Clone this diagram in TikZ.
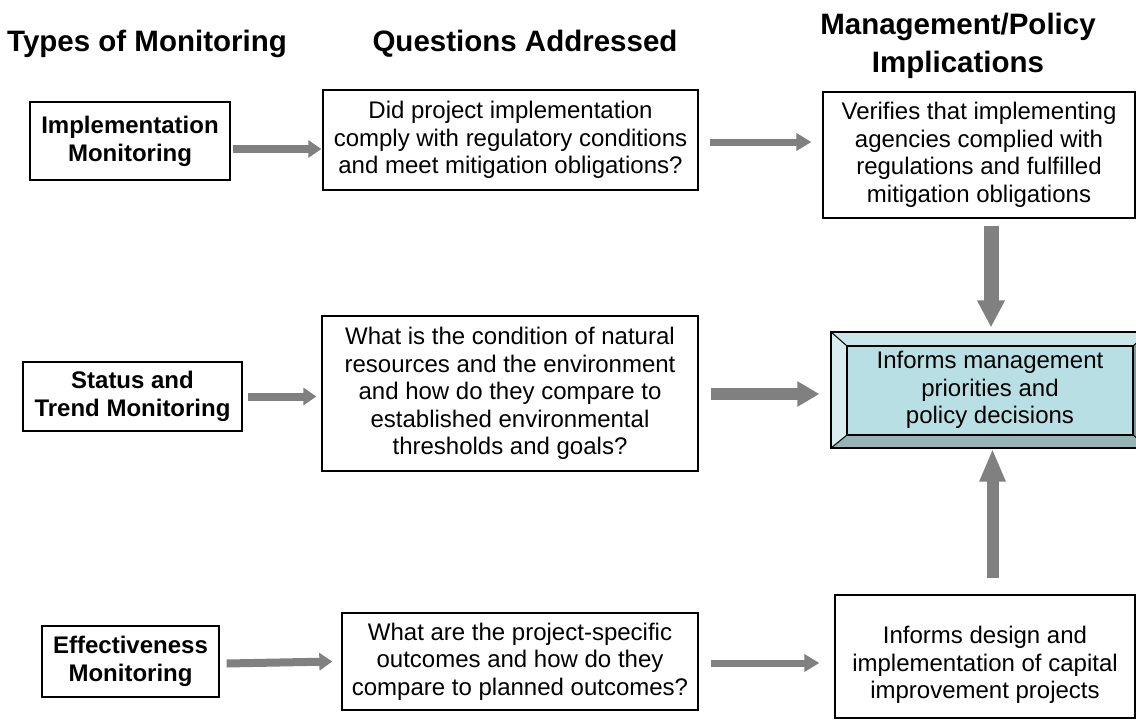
\documentclass[tikz,border=0pt]{standalone}
\usepackage{fontspec}
\setmainfont{Liberation Sans}
\usetikzlibrary{arrows.meta,calc}
\definecolor{arrgray}{HTML}{808080}
\definecolor{bvcenter}{HTML}{B8DFE3}
\definecolor{bvtop}{HTML}{C9E6E8}
\definecolor{bvleft}{HTML}{D8EDEF}
\definecolor{bvbottom}{HTML}{95B4B6}
\definecolor{bvright}{HTML}{7C9C9E}
\tikzset{
  txt/.style={font=\fontsize{24}{27.5}\selectfont},
  box/.style={draw=black, line width=1.3pt, fill=white, align=center, inner sep=0pt, txt},
  tbox/.style={box, font=\bfseries\fontsize{24}{28}\selectfont},
  header/.style={font=\bfseries\fontsize{29.5}{38}\selectfont, align=center, inner sep=0pt},
  arrthin/.style={draw=arrgray, line width=8pt, -{Triangle[width=17pt,length=13pt]}, arrgray},
  arrmid/.style={draw=arrgray, line width=7pt, -{Triangle[width=17pt,length=15pt]}, arrgray},
  arrthick/.style={draw=arrgray, line width=12pt, -{Triangle[width=24pt,length=22pt]}, arrgray},
  arrdown/.style={draw=arrgray, line width=15pt, -{Triangle[width=26pt,length=27pt]}, arrgray},
  arrup/.style={draw=arrgray, line width=12pt, -{Triangle[width=24pt,length=33pt]}, arrgray},
  bevelbox/.style={draw=black, line width=1.3pt, fill=bvcenter, align=center, inner sep=0pt, txt,
    path picture={
      \coordinate (o1) at (path picture bounding box.north west);
      \coordinate (o2) at (path picture bounding box.north east);
      \coordinate (o3) at (path picture bounding box.south east);
      \coordinate (o4) at (path picture bounding box.south west);
      \coordinate (i1) at ($(o1)+(16pt,-14pt)$);
      \coordinate (i2) at ($(o2)+(-16pt,-14pt)$);
      \coordinate (i3) at ($(o3)+(-16pt,13pt)$);
      \coordinate (i4) at ($(o4)+(16pt,13pt)$);
      \fill[bvtop] (o1)--(o2)--(i2)--(i1)--cycle;
      \fill[bvright] (o2)--(o3)--(i3)--(i2)--cycle;
      \fill[bvbottom] (o4)--(o3)--(i3)--(i4)--cycle;
      \fill[bvleft] (o1)--(i1)--(i4)--(o4)--cycle;
      \draw[line width=1.2pt] (i1)--(i2)--(i3)--(i4)--cycle;
      \draw[line width=1pt] (o1)--(i1) (o2)--(i2) (o3)--(i3) (o4)--(i4);
    }},
}
\begin{document}
\begin{tikzpicture}[x=1pt,y=-1pt]
\useasboundingbox (0,0) rectangle (1136,728);
\clip (0,0) rectangle (1136,728);
\fill[white] (0,0) rectangle (1136,728);

% headers
\node[header] (h1) at (147,44) {Types of Monitoring};
\node[header] (h2) at (525,44) {Questions Addressed};
\node[header] (h3) at (958,46) {Management/Policy\\Implications};

% left column
\node[tbox, minimum width=200, minimum height=78] (impl) at (130,141) {Implementation\\Monitoring};
\node[tbox, minimum width=219, minimum height=69] (status) at (132.5,396.5) {Status and\\Trend Monitoring};
\node[tbox, minimum width=177, minimum height=71] (eff) at (130.5,661.5) {Effectiveness\\Monitoring};

% middle column
\node[box, minimum width=375, minimum height=100] (q1) at (510.5,140) {Did project implementation\\comply with regulatory conditions\\and meet mitigation obligations?};
\node[box, minimum width=376, minimum height=155] (q2) at (510,393.5) {What is the condition of natural\\resources and the environment\\and how do they compare to\\established environmental\\thresholds and goals?};
\node[box, minimum width=356, minimum height=97] (q3) at (520,661.5) {What are the project-specific\\outcomes and how do they\\compare to planned outcomes?};

% right column
\node[box, minimum width=312, minimum height=126] (ver) at (979,155) {Verifies that implementing\\agencies complied with\\regulations and fulfilled\\mitigation obligations};
\node[bevelbox, minimum width=318, minimum height=116] (bevel) at (990,390) {Informs management\\priorities and\\policy decisions};
\node[box, minimum width=300, minimum height=123] (cap) at (985,656.5) {};
\node[txt, align=center, inner sep=0pt] (captext) at ($(cap.center)+(0,8.5)$) {Informs design and\\implementation of capital\\improvement projects};

% connectors
\draw[arrthin] ($(impl.east)+(2,8)$) -- ($(q1.west)+(-1,9)$);
\draw[arrmid] ($(q1.east)+(11,2)$) -- ($(ver.west)+(-11,-13)$);
\draw[arrthin] ($(status.east)+(5,0)$) -- ($(q2.west)+(-5,3)$);
\draw[arrthick] ($(q2.east)+(12,0.5)$) -- ($(bevel.west)+(-11,4)$);
\draw[arrthin] ($(eff.east)+(7,2)$) -- ($(q3.west)+(-9,0)$);
\draw[arrmid] ($(q3.east)+(12,1.5)$) -- ($(cap.west)+(-15,6.5)$);
\draw[arrdown] ($(ver.south)+(12,7)$) -- ($(bevel.north)+(1,-4)$);
\draw[arrup] ($(cap.north)+(7.5,-16)$) -- ($(bevel.south)+(2.5,0)$);
\end{tikzpicture}
\end{document}
